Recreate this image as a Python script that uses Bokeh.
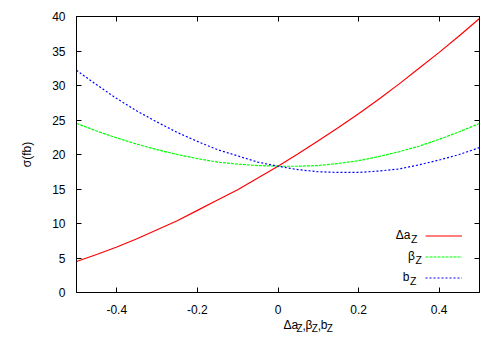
from bokeh.plotting import figure
from bokeh.layouts import column
from bokeh.models import (Range1d, FixedTicker, LinearAxis, Legend, LegendItem,
                          Label, CustomJSTickFormatter)
from bokeh.embed import file_html
from bokeh.resources import INLINE

# ---- data ----
x_vals = [-0.5, -0.45, -0.4, -0.35, -0.3, -0.25, -0.2, -0.15, -0.1, -0.05, 0.0,
          0.05, 0.1, 0.15, 0.2, 0.25, 0.3, 0.35, 0.4, 0.45, 0.5]
delta_aZ = [4.5, 5.5, 6.6, 7.8, 9.1, 10.4, 11.9, 13.4, 14.9, 16.6, 18.3,
            20.1, 22.0, 23.9, 25.9, 28.0, 30.2, 32.5, 34.8, 37.2, 39.7]
beta_Z = [24.5, 23.4, 22.4, 21.5, 20.7, 20.0, 19.4, 18.9, 18.6, 18.4, 18.3,
          18.3, 18.4, 18.7, 19.1, 19.7, 20.4, 21.2, 22.2, 23.3, 24.5]
b_Z = [32.2, 30.1, 28.1, 26.3, 24.7, 23.2, 21.9, 20.7, 19.8, 18.9, 18.3,
       17.8, 17.5, 17.4, 17.4, 17.6, 17.9, 18.5, 19.2, 20.0, 21.0]

x_ticks = [-0.4, -0.2, 0.0, 0.2, 0.4]
x_tick_labels = ["-0.4", "-0.2", "0", "0.2", "0.4"]
y_ticks = [0, 5, 10, 15, 20, 25, 30, 35, 40]
series_main = ["\u0394a", "\u03b2", "b"]
series_sub = ["Z", "Z", "Z"]
series_colors = ["#ff0000", "#00ff00", "#0000ff"]
series_dash = ["solid", "3 1", "2 2"]
y_label = "\u03c3(fb)"

FONT = "Liberation Sans"
W = 484
H1 = 318

p = figure(width=W, height=H1, output_backend="svg", toolbar_location=None,
           title=None,
           x_range=Range1d(-0.5, 0.5), y_range=Range1d(0, 40),
           min_border_left=76, min_border_right=5, min_border_top=16,
           min_border_bottom=H1 - 292)
p.background_fill_color = "white"
p.border_fill_color = "white"
p.outline_line_color = "black"
p.outline_line_width = 1
p.xgrid.visible = False
p.ygrid.visible = False

p.add_layout(LinearAxis(), "above")
p.add_layout(LinearAxis(), "right")

for ax in p.xaxis:
    ax.ticker = FixedTicker(ticks=x_ticks)
for ax in p.yaxis:
    ax.ticker = FixedTicker(ticks=y_ticks)

for ax in p.axis:
    ax.axis_line_color = "black"
    ax.major_tick_line_color = "black"
    ax.major_tick_in = 5
    ax.major_tick_out = 0
    ax.minor_tick_line_color = None
    ax.major_label_text_font = FONT
    ax.major_label_text_font_size = "12px"
    ax.major_label_text_color = "black"

# bottom / left axes (labelled)
p.below[0].formatter = CustomJSTickFormatter(args=dict(labels=x_tick_labels),
                                             code="return labels[index];")
p.below[0].major_label_standoff = 12
p.left[0].major_label_standoff = 11
p.left[0].axis_label = y_label
p.left[0].axis_label_text_font = FONT
p.left[0].axis_label_text_font_size = "12px"
p.left[0].axis_label_text_font_style = "normal"
p.left[0].axis_label_text_color = "black"
p.left[0].axis_label_standoff = 15

# mirrored axes (ticks only)
for ax in (p.above[0], p.right[0]):
    ax.formatter = CustomJSTickFormatter(code="return '';")
    ax.major_label_text_font_size = "0px"
    ax.major_label_standoff = 0

renderers = []
for ys, col, dash in zip([delta_aZ, beta_Z, b_Z], series_colors, series_dash):
    r = p.line(x_vals, ys, line_color=col, line_width=1.2, line_dash=dash)
    renderers.append(r)

legend = Legend(items=[LegendItem(label=" ", renderers=[r]) for r in renderers],
                location=(349, 4.5), orientation="vertical",
                glyph_width=37, glyph_height=21, label_height=21, label_width=0,
                label_standoff=0, spacing=0, padding=0, margin=0,
                border_line_color=None, background_fill_alpha=0,
                label_text_font_size="1px")
p.add_layout(legend)

FRAME_LEFT, FRAME_BOTTOM = 76, 292   # pixels of the frame's lower-left corner


def frame_label(text, px, py, size, align="left"):
    return Label(x=-0.5, y=0, x_units="data", y_units="data",
                 x_offset=px - FRAME_LEFT, y_offset=FRAME_BOTTOM - py,
                 text=text, text_font=FONT, text_font_size=f"{size}px",
                 text_align=align, text_baseline="middle",
                 text_color="black")


# legend texts (vertical centres)
row_y = [235, 256, 277]
row_x = [410.5, 415, 409.5]
for main, sub, ly, lx in zip(series_main, series_sub, row_y, row_x):
    p.add_layout(frame_label(main, lx - 0.5, ly - 1, 12, "right"))
    p.add_layout(frame_label(sub, lx, ly + 3.3, 10.5, "left"))

# x axis label (with subscripts) in a strip below the plot
H2 = 334 - H1
p2 = figure(width=W, height=H2, output_backend="svg", toolbar_location=None,
            title=None,
            x_range=Range1d(0, W), y_range=Range1d(0, H2),
            x_axis_type=None, y_axis_type=None, min_border=0)
p2.outline_line_color = None
p2.background_fill_color = "white"
p2.border_fill_color = "white"
p2.xgrid.visible = False
p2.ygrid.visible = False

pieces = [("\u0394a", 12, 0, 15.8), ("Z", 10, 1, 7.0), (",", 12, 0, 3.8),
          ("\u03b2", 12, 0, 7.5), ("Z", 10, 1, 7.0), (",", 12, 0, 3.8),
          ("b", 12, 0, 7.2), ("Z", 10, 1, 7.0)]
cx = 248.5
for txt, size, is_sub, w in pieces:
    centre = 328.3 if is_sub else 324.5
    p2.add_layout(Label(x=cx, y=334 - centre, text=txt, text_font=FONT,
                        text_font_size=f"{size}px", text_align="left",
                        text_baseline="middle", text_color="black"))
    cx += w

layout = column(p, p2, spacing=0)
open("out.html", "w").write(file_html(layout, INLINE))
